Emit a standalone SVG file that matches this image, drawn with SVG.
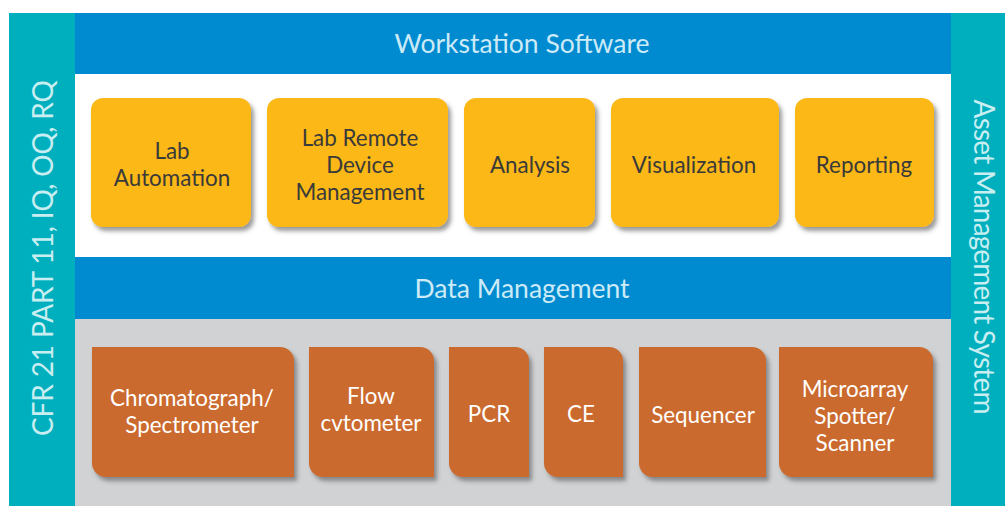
<svg xmlns="http://www.w3.org/2000/svg" width="1005" height="506" viewBox="0 0 1005 506">
<defs>
<filter id="sh" x="-10%" y="-10%" width="125%" height="130%">
<feDropShadow dx="3" dy="4" stdDeviation="2.2" flood-color="#4a4a4a" flood-opacity="0.55"/>
</filter>
<style>
.band{fill:#008BD0}
.side{fill:#00AFBD}
.hdr{font-family:Lato,"Liberation Sans",sans-serif;font-size:26.5px;fill:#CDEAF7;text-anchor:middle}
.vt{font-family:Lato,"Liberation Sans",sans-serif;font-size:28px;fill:#C9EEF1;text-anchor:middle}
.yb{fill:#FBB817;filter:url(#sh)}
.ob{fill:#CB6A2D;filter:url(#sh)}
.yt{font-family:Lato,"Liberation Sans",sans-serif;font-size:22.4px;fill:#3A3A3A;text-anchor:middle}
.ot{font-family:Lato,"Liberation Sans",sans-serif;font-size:22.4px;fill:#FFFFFF;text-anchor:middle}
</style>
</defs>
<rect x="0" y="0" width="1005" height="506" fill="#FFFFFF"/>
<rect x="75" y="74" width="876" height="183" fill="#FFFFFF"/>
<rect x="75" y="319" width="876" height="187" fill="#D1D2D4"/>

<g id="workstation-software">
<rect class="band" x="75" y="13" width="876" height="61"/>
<text class="hdr" x="522" y="53">Workstation Software</text>
</g>
<g id="data-management">
<rect class="band" x="75" y="257" width="876" height="62"/>
<text class="hdr" x="522" y="298">Data Management</text>
</g>
<g id="cfr">
<rect class="side" x="9" y="13" width="66" height="493"/>
<text class="vt" transform="translate(53,258) rotate(-90)" textLength="356" lengthAdjust="spacing">CFR 21 PART 11, IQ, OQ, RQ</text>
</g>
<g id="asset-management">
<rect class="side" x="951" y="13" width="54" height="493"/>
<text class="vt" transform="translate(974,257) rotate(90)" textLength="315" lengthAdjust="spacing">Asset Management System</text>
</g>

<g id="lab-automation">
<rect class="yb" x="91" y="98" width="160" height="129" rx="12"/>
<text class="yt" x="172" y="159">Lab</text>
<text class="yt" x="172" y="186">Automation</text>
</g>
<g id="lab-remote">
<rect class="yb" x="267" y="98" width="181" height="129" rx="12"/>
<text class="yt" x="360" y="146">Lab Remote</text>
<text class="yt" x="360" y="173">Device</text>
<text class="yt" x="360" y="200">Management</text>
</g>
<g id="analysis">
<rect class="yb" x="464" y="98" width="131" height="129" rx="12"/>
<text class="yt" x="530" y="173">Analysis</text>
</g>
<g id="visualization">
<rect class="yb" x="611" y="98" width="168" height="129" rx="12"/>
<text class="yt" x="694" y="173">Visualization</text>
</g>
<g id="reporting">
<rect class="yb" x="795" y="98" width="139" height="129" rx="12"/>
<text class="yt" x="864" y="173">Reporting</text>
</g>

<g id="chromatograph">
<path class="ob" d="M92,347 H280 A14,14 0 0 1 294,361 V477 H106 A14,14 0 0 1 92,463 Z"/>
<text class="ot" x="192" y="406">Chromatograph/</text>
<text class="ot" x="192" y="433">Spectrometer</text>
</g>
<g id="flow">
<path class="ob" d="M309,347 H420 A14,14 0 0 1 434,361 V477 H323 A14,14 0 0 1 309,463 Z"/>
<text class="ot" x="371" y="404">Flow</text>
<text class="ot" x="371" y="431">cvtometer</text>
</g>
<g id="pcr">
<path class="ob" d="M449,347 H515 A14,14 0 0 1 529,361 V477 H463 A14,14 0 0 1 449,463 Z"/>
<text class="ot" x="489" y="422">PCR</text>
</g>
<g id="ce">
<path class="ob" d="M544,347 H609 A14,14 0 0 1 623,361 V477 H558 A14,14 0 0 1 544,463 Z"/>
<text class="ot" x="581" y="422">CE</text>
</g>
<g id="sequencer">
<path class="ob" d="M639,347 H752 A14,14 0 0 1 766,361 V477 H653 A14,14 0 0 1 639,463 Z"/>
<text class="ot" x="703" y="423">Sequencer</text>
</g>
<g id="microarray">
<path class="ob" d="M779,347 H919 A14,14 0 0 1 933,361 V477 H793 A14,14 0 0 1 779,463 Z"/>
<text class="ot" x="855" y="397">Microarray</text>
<text class="ot" x="855" y="424">Spotter/</text>
<text class="ot" x="855" y="451">Scanner</text>
</g>
</svg>
